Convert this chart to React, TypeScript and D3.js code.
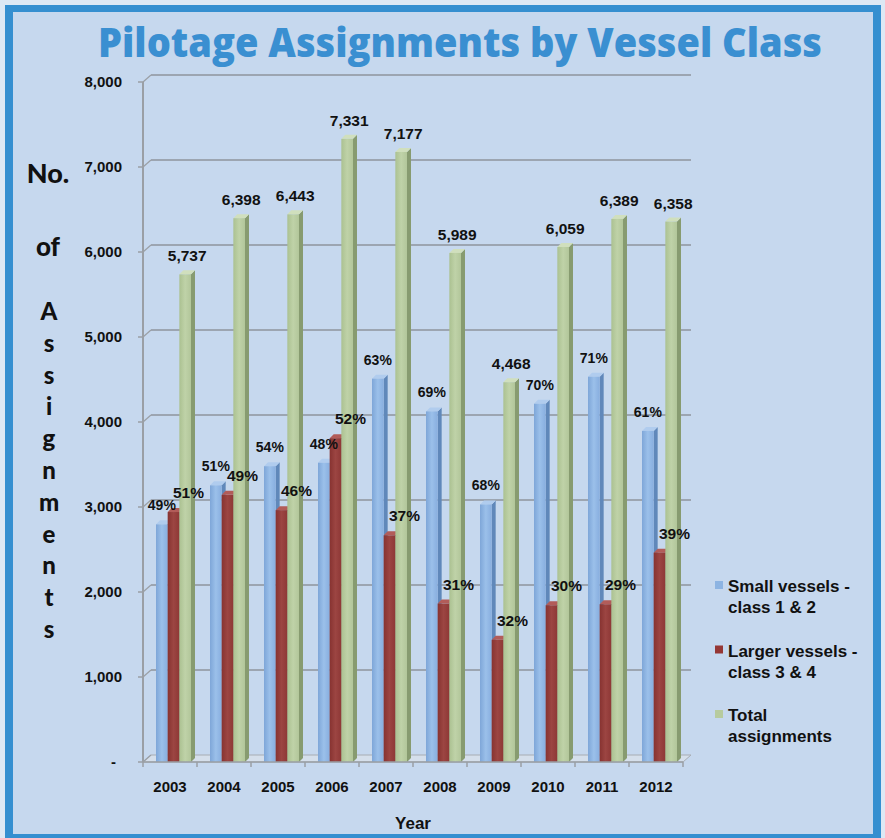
import React from "react";
import * as d3 from "d3";

const years = ["2003", "2004", "2005", "2006", "2007", "2008", "2009", "2010", "2011", "2012"];
const smallVessels = [2796, 3255, 3480, 3521, 4510, 4125, 3030, 4215, 4533, 3895];
const largerVessels = [2941, 3143, 2963, 3810, 2667, 1864, 1438, 1844, 1856, 2463];
const totalAssignments = [5737, 6398, 6443, 7331, 7177, 5989, 4468, 6059, 6389, 6358];
const smallPct = [49, 51, 54, 48, 63, 69, 68, 70, 71, 61];
const largerPct = [51, 49, 46, 52, 37, 31, 32, 30, 29, 39];
const yTicks = [0, 1000, 2000, 3000, 4000, 5000, 6000, 7000, 8000];
const legendSmall = ["Small vessels -", "class 1 & 2"];
const legendLarger = ["Larger vessels -", "class 3 & 4"];
const legendTotal = ["Total", "assignments"];
const yTitleTop = ["No.", "of"];
const yTitleLetters = "Assignments".split("");

const W = 885;
const H = 838;
const depth = 4;
const wallDx = 8;
const wallDy = 7;
const bold = "'Liberation Sans', Arial, sans-serif";

const series = [
  { key: "small", values: smallVessels, legend: legendSmall,
    stops: ["#7ea6d8", "#9bc0ea", "#88aedf"], side: "#6088ba", top: "#b0ccee", swatch: "#8db4e2" },
  { key: "larger", values: largerVessels, legend: legendLarger,
    stops: ["#873331", "#9c4542", "#8e3836"], side: "#6a2624", top: "#b25c59", swatch: "#953735" },
  { key: "total", values: totalAssignments, legend: legendTotal,
    stops: ["#abc191", "#bfd2a8", "#b2c69a"], side: "#879b70", top: "#d0dfbd", swatch: "#b7cb9e" },
];

export default function App() {
  const y = d3.scaleLinear().domain([0, 8000]).range([762, 82]);
  const x0 = d3.scaleBand<string>().domain(years).range([143, 683]);
  const x1 = d3.scaleBand<string>().domain(series.map((s) => s.key)).range([13, 48]);
  const bw = x1.bandwidth();
  const y0 = y(0);
  const fmt = d3.format(",");
  const xLeft = x0.range()[0];
  const xRight = x0.range()[1];
  const boundaries = [...years.map((yr) => x0(yr) as number), xRight];

  return (
    <svg width={W} height={H} style={{ position: "absolute", left: 0, top: 0 }}>
      <defs>
        {series.map((s) => (
          <linearGradient key={s.key} id={`g-${s.key}`} x1="0" x2="1" y1="0" y2="0">
            <stop offset="0%" stopColor={s.stops[0]} />
            <stop offset="50%" stopColor={s.stops[1]} />
            <stop offset="100%" stopColor={s.stops[2]} />
          </linearGradient>
        ))}
      </defs>

      {/* frame */}
      <rect x={0} y={0} width={W} height={H} fill="#dde8f4" />
      <rect x={5} y={5} width={876} height={838} fill="#358fd0" />
      <rect x={13} y={12} width={860} height={822} fill="#c6d8ee" />

      <text x={460} y={57} textAnchor="middle" fill="#3a8fd1"
        fontFamily="'Open Sans', sans-serif" fontWeight={800} fontSize={41}
        textLength={724} lengthAdjust="spacingAndGlyphs">
        Pilotage Assignments by Vessel Class
      </text>

      {/* floor */}
      <polygon
        points={`${xLeft},${y0} ${xRight},${y0} ${xRight + wallDx},${y0 - wallDy} ${xLeft + wallDx},${y0 - wallDy}`}
        fill="#d5dfeb" stroke="#a8adb3" strokeWidth={1} />

      {/* gridlines on back wall */}
      {yTicks.map((t) => (
        <g key={t}>
          {t > 0 && (
            <line x1={xLeft + wallDx} x2={xRight + wallDx} y1={y(t) - wallDy} y2={y(t) - wallDy}
              stroke="#8e959d" strokeWidth={1.3} />
          )}
          <line x1={xLeft} x2={xLeft + wallDx} y1={y(t)} y2={y(t) - wallDy} stroke="#9a9fa5" strokeWidth={1.2} />
          <line x1={xLeft - 5} x2={xLeft} y1={y(t)} y2={y(t)} stroke="#9a9fa5" strokeWidth={1.5} />
          <text x={t === 0 ? 116 : 122} y={y(t) + 5} textAnchor="end" fontFamily={bold}
            fontWeight="bold" fontSize={15} fill="#111">
            {t === 0 ? "-" : fmt(t)}
          </text>
        </g>
      ))}
      <line x1={xLeft} x2={xLeft} y1={y(8000)} y2={y0} stroke="#9a9fa5" strokeWidth={2} />

      {/* bars */}
      {years.map((yr, i) => (
        <g key={yr}>
          {series.map((s) => {
            const x = (x0(yr) as number) + (x1(s.key) as number);
            const yt = y(s.values[i]);
            return (
              <g key={s.key}>
                <polygon
                  points={`${x + bw},${yt} ${x + bw + depth},${yt - depth} ${x + bw + depth},${y0 - depth} ${x + bw},${y0}`}
                  fill={s.side} />
                <polygon
                  points={`${x},${yt} ${x + depth},${yt - depth} ${x + bw + depth},${yt - depth} ${x + bw},${yt}`}
                  fill={s.top} />
                <rect x={x} y={yt} width={bw} height={y0 - yt} fill={`url(#g-${s.key})`} />
              </g>
            );
          })}
        </g>
      ))}

      {/* x axis */}
      <line x1={xLeft} x2={xRight} y1={y0} y2={y0} stroke="#9a9fa5" strokeWidth={1.5} />
      {boundaries.map((b, i) => (
        <line key={i} x1={b} x2={b} y1={y0} y2={y0 + 5} stroke="#9a9fa5" strokeWidth={1.5} />
      ))}
      {years.map((yr) => (
        <text key={yr} x={(x0(yr) as number) + x0.bandwidth() / 2} y={792} textAnchor="middle"
          fontFamily={bold} fontWeight="bold" fontSize={15} fill="#111">
          {yr}
        </text>
      ))}

      {/* data labels */}
      {years.map((yr, i) => {
        const bx = x0(yr) as number;
        const cS = bx + (x1("small") as number) + bw / 2;
        const cL = bx + (x1("larger") as number) + bw / 2;
        const cT = bx + (x1("total") as number) + bw / 2 + 2;
        return (
          <g key={yr} fontFamily={bold} fontWeight="bold" fill="#111" textAnchor="middle">
            <text x={cT} y={y(totalAssignments[i]) - 13} fontSize={15.5}>{fmt(totalAssignments[i])}</text>
            <text x={cS} y={y(smallVessels[i]) - 14} fontSize={14}>{`${smallPct[i]}%`}</text>
            <text x={cL + 15} y={y(largerVessels[i]) - 14} fontSize={15.5}>{`${largerPct[i]}%`}</text>
          </g>
        );
      })}

      {/* axis titles */}
      <g fontFamily="Lato, 'DejaVu Sans', sans-serif" fontWeight={900} fill="#111" textAnchor="middle">
        <text x={48} y={183} fontSize={27}>{yTitleTop[0]}</text>
        <text x={48} y={256} fontSize={26}>{yTitleTop[1]}</text>
        {yTitleLetters.map((ch, i) => (
          <text key={i} x={49} y={320 + i * 31.8} fontSize={24}>{ch}</text>
        ))}
      </g>
      <text x={413} y={829} textAnchor="middle" fontFamily={bold} fontWeight="bold" fontSize={17} fill="#111">
        Year
      </text>

      {/* legend */}
      {series.map((s, k) => (
        <g key={s.key} transform={`translate(715, ${581 + k * 64.5})`}>
          <rect x={0} y={0} width={8} height={8} fill={s.swatch} />
          {s.legend.map((line, j) => (
            <text key={j} x={13} y={11 + j * 21} fontFamily={bold} fontWeight="bold" fontSize={17} fill="#111">
              {line}
            </text>
          ))}
        </g>
      ))}
    </svg>
  );
}
